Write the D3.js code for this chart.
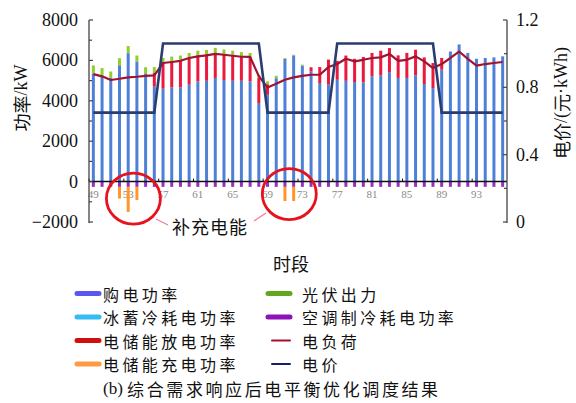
<!DOCTYPE html>
<html><head><meta charset="utf-8">
<script src="https://cdn.jsdelivr.net/npm/d3@7"></script>
<style>
  body { margin: 0; background: #fff; }
  svg { display: block; }
</style>
</head><body>
<svg id="chart" width="576" height="403"></svg>
<script>
// Periods 49–96 (15-min slots)
const periods = d3.range(49, 97);
const tickPeriods = [49, 53, 57, 61, 65, 69, 73, 77, 81, 85, 89, 93];

// Power (kW)
const purchase = [5350, 5240, 5140, 5760, 6360, 5950, 5360, 4700, 4600, 4660, 4660, 4800,
                  4960, 4990, 5130, 5030, 4990, 4990, 4960, 3890, 4300, 5120, 6080, 6250,
                  5740, 5450, 4880, 4800, 5040, 4990, 4930, 4910, 5210, 5260, 5420, 5130,
                  5130, 5260, 4830, 4630, 5540, 6440, 6790, 6370, 6080, 6120, 6150, 6200];
const discharge = [0, 0, 0, 0, 0, 0, 0, 680, 1320, 1320, 1370, 1320,
                   1290, 1320, 1240, 1300, 1290, 1200, 1190, 1250, 520, 0, 0, 0,
                   0, 210, 790, 1240, 940, 1250, 1150, 1260, 1160, 1220, 1190, 1120,
                   1240, 1270, 1320, 1240, 580, 0, 0, 0, 0, 0, 0, 0];
const pv = [400, 380, 310, 350, 350, 290, 300, 290, 200, 210, 210, 250,
            230, 210, 250, 210, 200, 220, 220, 150, 140, 120, 40, 30,
            50, 0, 0, 0, 0, 0, 0, 0, 0, 0, 0, 0,
            0, 0, 0, 0, 0, 0, 0, 0, 0, 0, 0, 0];
const acCooling = [-260, -260, -260, -260, -260, -260, -260, -260, -260, -260, -260, -260,
                   -260, -260, -260, -260, -260, -260, -260, -260, -260, -260, -260, -260,
                   -260, -260, -260, -260, -260, -260, -260, -260, -260, -260, -260, -260,
                   -260, -260, -260, -260, -260, -260, -260, -260, -260, -260, -260, -260];
const iceCooling = [0, 0, 0, 0, 0, 0, 0, 0, 0, 0, 0, 0,
                    0, 0, 0, 0, 0, 0, 0, 0, 0, 0, 0, 0,
                    0, 0, 0, 0, 0, 0, 0, 0, 0, 0, 0, 0,
                    0, 0, 0, 0, 0, 0, 0, 0, 0, 0, 0, 0];
const charge = [0, 0, 0, -580, -1240, -650, 0, 0, 0, 0, 0, 0,
                0, 0, 0, 0, 0, 0, 0, 0, 0, 0, -700, -700,
                0, 0, 0, 0, 0, 0, 0, 0, 0, 0, 0, 0,
                0, 0, 0, 0, 0, 0, 0, 0, 0, 0, 0, 0];
const load = [5320, 5210, 5030, 5090, 5160, 5190, 5230, 5260, 5870, 5920, 5980, 6120,
              6200, 6250, 6320, 6280, 6230, 6180, 6170, 5220, 4660, 4840, 5040, 5160,
              5230, 5290, 5290, 5670, 5820, 6080, 5950, 6030, 6120, 6150, 6320, 5980,
              6030, 6200, 5950, 5620, 5820, 6120, 6440, 6080, 5740, 5820, 5870, 5920];
// Electricity price (yuan/kWh)
const price = [0.65, 0.65, 0.65, 0.65, 0.65, 0.65, 0.65, 0.65, 1.06, 1.06, 1.06, 1.06,
               1.06, 1.06, 1.06, 1.06, 1.06, 1.06, 1.06, 1.06, 0.65, 0.65, 0.65, 0.65,
               0.65, 0.65, 0.65, 0.65, 1.06, 1.06, 1.06, 1.06, 1.06, 1.06, 1.06, 1.06,
               1.06, 1.06, 1.06, 1.06, 0.65, 0.65, 0.65, 0.65, 0.65, 0.65, 0.65, 0.65];

const leftTicks = [-2000, 0, 2000, 4000, 6000, 8000];
const rightTicks = [0, 0.4, 0.8, 1.2];

const svg = d3.select("#chart");
const L = 89, R = 507, T = 20, B = 222;
const serif = "'Liberation Serif', 'Times New Roman', serif";
const cjk = "'Noto Sans CJK SC', sans-serif";

const x = d3.scaleBand().domain(periods).range([L, R]);
const y = d3.scaleLinear().domain([-2000, 8000]).range([B, T]);
const y2 = d3.scaleLinear().domain([0, 1.2]).range([B, T]);
const cx = p => x(periods[0]) + x.bandwidth() / 2 + (p - periods[0]) * x.step();

// stacked bars (positive up, consumption down)
const keys = ["purchase", "discharge", "pv", "acCooling", "iceCooling", "charge"];
const series = { purchase, discharge, pv, acCooling, iceCooling, charge };
const rows = periods.map((p, i) => {
  const r = { period: p };
  keys.forEach(k => r[k] = series[k][i]);
  return r;
});
const stacked = d3.stack().keys(keys).offset(d3.stackOffsetDiverging)(rows);
const barColor = {
  purchase: "#4f80d8", discharge: "#ea1a3e", pv: "#8fd02c",
  acCooling: "#9a2ec4", iceCooling: "#35b8f0", charge: "#ff962a"
};
const barW = 3;

// x tick labels sit under the bars
svg.append("g").selectAll("text").data(tickPeriods).join("text")
  .attr("x", d => x(d) + x.bandwidth() / 2)
  .attr("y", 194)
  .attr("text-anchor", "middle")
  .attr("dominant-baseline", "central")
  .attr("font-family", serif)
  .attr("font-size", 11)
  .attr("fill", "#8a8a8a")
  .text(d => d);

svg.append("g").selectAll("g").data(stacked).join("g")
  .attr("fill", d => barColor[d.key])
  .selectAll("rect").data(d => d).join("rect")
  .attr("x", d => x(d.data.period) + x.bandwidth() / 2 - barW / 2)
  .attr("width", barW)
  .attr("y", d => y(Math.max(d[0], d[1])))
  .attr("height", d => Math.abs(y(d[0]) - y(d[1])));

// x axis line and ticks
svg.append("line").attr("x1", L).attr("x2", R).attr("y1", y(0)).attr("y2", y(0))
  .attr("stroke", "#111").attr("stroke-width", 1.5);
svg.append("g").selectAll("line").data(tickPeriods).join("line")
  .attr("x1", d => x(d)).attr("x2", d => x(d))
  .attr("y1", y(0)).attr("y2", y(0) - 3)
  .attr("stroke", "#111").attr("stroke-width", 1);

// load curve
svg.append("path").datum(load)
  .attr("fill", "none").attr("stroke", "#9e1432").attr("stroke-width", 2.2)
  .attr("stroke-linejoin", "round")
  .attr("d", d3.line().x((d, i) => cx(periods[i])).y(d => y(d)));

// price curve
svg.append("path").datum(price)
  .attr("fill", "none").attr("stroke", "#2a3d70").attr("stroke-width", 2.6)
  .attr("d", d3.line().x((d, i) => cx(periods[i])).y(d => y2(d)));

// left axis
const axisColor = "#444";
svg.append("line").attr("x1", L).attr("x2", L).attr("y1", T).attr("y2", B + 1)
  .attr("stroke", axisColor).attr("stroke-width", 1.3);
svg.append("g").selectAll("line").data(d3.range(-2000, 8001, 1000)).join("line")
  .attr("x1", L).attr("x2", d => L + (d % 2000 === 0 ? 4 : 3))
  .attr("y1", d => y(d)).attr("y2", d => y(d))
  .attr("stroke", axisColor).attr("stroke-width", 1.2);
svg.append("g").selectAll("text").data(leftTicks).join("text")
  .attr("x", 78).attr("y", d => y(d))
  .attr("text-anchor", "end").attr("dominant-baseline", "central")
  .attr("font-family", serif).attr("font-size", 18).attr("fill", "#111")
  .text(d => d3.format("d")(d).replace("-", "\u2212"));

// right axis
svg.append("line").attr("x1", R).attr("x2", R).attr("y1", T).attr("y2", B + 1)
  .attr("stroke", axisColor).attr("stroke-width", 1.3);
svg.append("g").selectAll("line").data(d3.range(0, 1.21, 0.2)).join("line")
  .attr("x1", R).attr("x2", (d, i) => R - (i % 2 === 0 ? 4 : 3))
  .attr("y1", d => y2(d)).attr("y2", d => y2(d))
  .attr("stroke", axisColor).attr("stroke-width", 1.2);
svg.append("g").selectAll("text").data(rightTicks).join("text")
  .attr("x", 516).attr("y", d => y2(d))
  .attr("dominant-baseline", "central")
  .attr("font-family", serif).attr("font-size", 18).attr("fill", "#111")
  .text(d => d === 0 ? "0" : d3.format(".1f")(d));

// axis titles
function vTitle(tx, ty, parts) {
  const t = svg.append("text")
    .attr("transform", `translate(${tx},${ty}) rotate(-90)`)
    .attr("text-anchor", "middle").attr("dominant-baseline", "central")
    .attr("font-size", 18).attr("fill", "#111");
  parts.forEach(([s, f]) => t.append("tspan").attr("font-family", f).text(s));
}
vTitle(21, 98, [["功率", cjk], ["/kW", serif]]);
vTitle(561, 103, [["电价", cjk], ["/(", serif], ["元", cjk], ["·kWh)", serif]]);

svg.append("text").attr("x", 291).attr("y", 263)
  .attr("text-anchor", "middle").attr("dominant-baseline", "central")
  .attr("font-family", cjk).attr("font-size", 18).attr("fill", "#111")
  .text("时段");

// annotation: charging periods circled
svg.append("g").selectAll("ellipse")
  .data([{ p: 53.6, dy: 17 }, { p: 71.5, dy: 12.5 }]).join("ellipse")
  .attr("cx", d => cx(d.p))
  .attr("cy", d => y(0) + d.dy)
  .attr("rx", 27).attr("ry", 25.5)
  .attr("fill", "none").attr("stroke", "#e8121c").attr("stroke-width", 2.8);
svg.append("line").attr("x1", 156).attr("y1", 219).attr("x2", 168).attr("y2", 225)
  .attr("stroke", "#f07a98").attr("stroke-width", 1.2);
svg.append("line").attr("x1", 254).attr("y1", 221).attr("x2", 266).attr("y2", 213)
  .attr("stroke", "#f07a98").attr("stroke-width", 1.2);
svg.append("text").attr("x", 172).attr("y", 226)
  .attr("dominant-baseline", "central")
  .attr("font-family", cjk).attr("font-size", 18).attr("letter-spacing", 1)
  .attr("fill", "#111")
  .text("补充电能");

// legend
const legendItems = [
  { label: "购电功率", color: "#5a56f0", col: 0, row: 0, thick: true },
  { label: "冰蓄冷耗电功率", color: "#35bcf5", col: 0, row: 1, thick: true },
  { label: "电储能放电功率", color: "#d20f0f", col: 0, row: 2, thick: true },
  { label: "电储能充电功率", color: "#ff9a42", col: 0, row: 3, thick: true },
  { label: "光伏出力", color: "#64a620", col: 1, row: 0, thick: true },
  { label: "空调制冷耗电功率", color: "#8c12ba", col: 1, row: 1, thick: true },
  { label: "电负荷", color: "#a3122e", col: 1, row: 2, thick: false },
  { label: "电价", color: "#1c1c6a", col: 1, row: 3, thick: false }
];
const colX = [77, 268], textX = [103, 302], rowY = [293.5, 317, 340.5, 364];
const lg = svg.append("g").selectAll("g").data(legendItems).join("g");
lg.append("line")
  .attr("x1", d => d.thick ? colX[d.col] : colX[d.col] + 4)
  .attr("x2", d => colX[d.col] + 22)
  .attr("y1", d => rowY[d.row]).attr("y2", d => rowY[d.row])
  .attr("stroke", d => d.color)
  .attr("stroke-width", d => d.thick ? 5 : 2)
  .attr("stroke-linecap", "round");
lg.append("text")
  .attr("x", d => textX[d.col]).attr("y", d => rowY[d.row])
  .attr("dominant-baseline", "central")
  .attr("font-family", cjk).attr("font-size", 16).attr("letter-spacing", 3.4)
  .attr("fill", "#111")
  .text(d => d.label);

const cap = svg.append("text").attr("x", 103).attr("y", 388)
  .attr("dominant-baseline", "central").attr("font-size", 17).attr("fill", "#111");
cap.append("tspan").attr("font-family", serif).text("(b) ");
cap.append("tspan").attr("font-family", cjk).attr("letter-spacing", 2.6).text("综合需求响应后电平衡优化调度结果");
</script>
</body></html>
